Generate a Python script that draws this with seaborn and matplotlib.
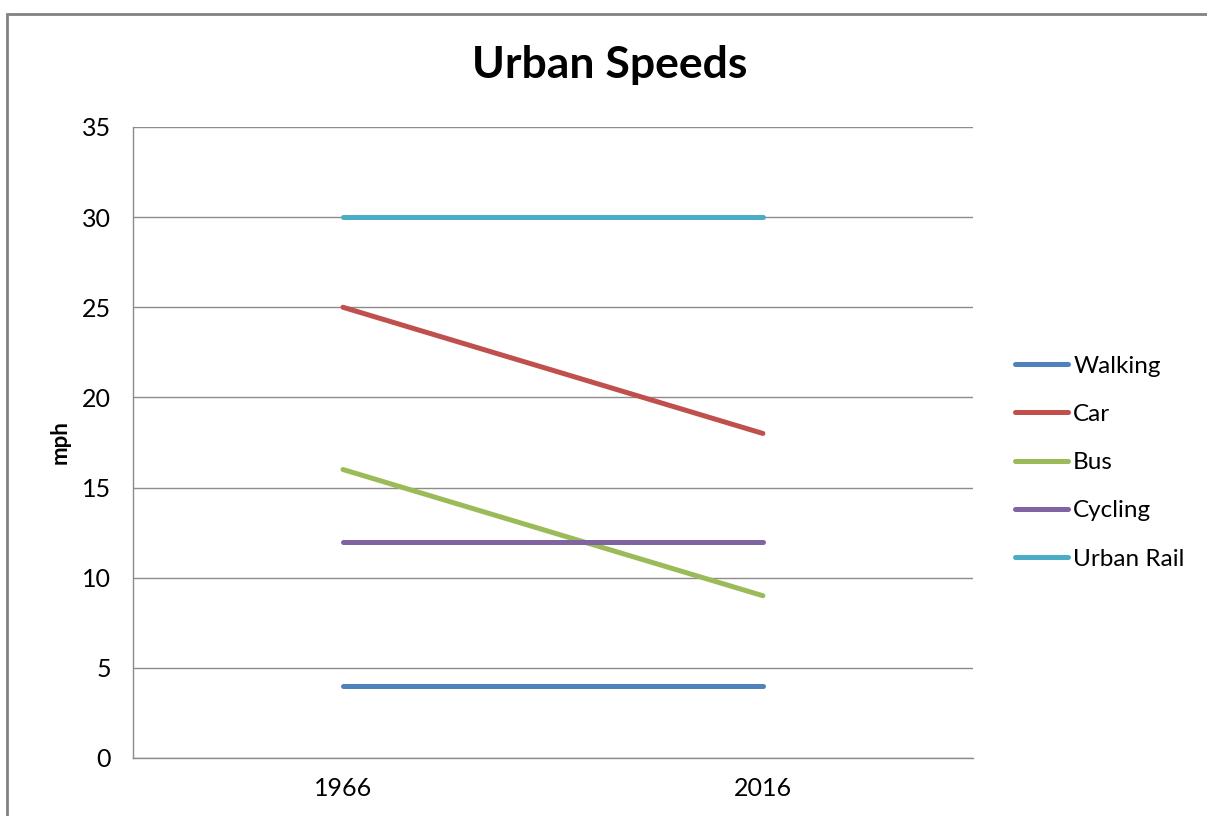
import matplotlib
matplotlib.use("Agg")
import matplotlib.pyplot as plt
import pandas as pd
import seaborn as sns
from matplotlib.patches import Rectangle

# Data
years = ["1966", "2016"]
walking = [4, 4]
car = [25, 18]
bus = [16, 9]
cycling = [12, 12]
urban_rail = [30, 30]

series_names = ["Walking", "Car", "Bus", "Cycling", "Urban Rail"]
colors = ["#4F81BD", "#C0504D", "#9BBB59", "#8064A2", "#4BACC6"]

df = pd.DataFrame({
    "pos": list(range(len(years))) * 5,
    "mph": walking + car + bus + cycling + urban_rail,
    "mode": [n for n in series_names for _ in years],
})

sns.set_style("white")
plt.rcParams['font.family'] = ['Lato', 'DejaVu Sans']
plt.rcParams['text.color'] = 'black'

fig = plt.figure(figsize=(12.07, 8.16), dpi=100)
ax = fig.add_axes([0.1102, 0.0711, 0.806 - 0.1102, 0.8444 - 0.0711])

sns.lineplot(data=df, x="pos", y="mph", hue="mode", hue_order=series_names,
             palette=colors, linewidth=3.6, ax=ax, legend=True)
for line in ax.get_lines():
    line.set_solid_capstyle("round")

ax.set_xlim(-0.5, 1.5)
ax.set_ylim(0, 35)
ax.set_xticks(range(len(years)))
ax.set_xticklabels(years)
ax.set_yticks(range(0, 36, 5))
ax.tick_params(axis="both", length=0, labelsize=18, colors="#000000")
ax.tick_params(axis="y", pad=16)
ax.tick_params(axis="x", pad=14)
ax.yaxis.grid(True, color="#8c8c8c", linewidth=1)
ax.set_axisbelow(True)
for s in ["top", "right"]:
    ax.spines[s].set_visible(False)
for s in ["left", "bottom"]:
    ax.spines[s].set_color("#8c8c8c")
    ax.spines[s].set_linewidth(1)

ax.set_xlabel("")
ax.set_ylabel("mph", fontsize=16, fontweight="bold", labelpad=8, color="black")

handles, labels = ax.get_legend_handles_labels()
ax.legend(handles, labels, loc="center left", bbox_to_anchor=(1.024, 0.468),
          frameon=False, fontsize=17.5, handlelength=2.2, handletextpad=0.2,
          labelspacing=1.12)
for h in ax.get_legend().get_lines():
    h.set_linewidth(3.6)
    h.set_solid_capstyle("round")

fig.text(0.505, 0.92, "Urban Speeds", ha="center", va="center",
         fontsize=32, fontweight="bold", color="black")

# chart area border (cropped on right and bottom in the reference)
fig.patches.append(Rectangle((7 / 1207, -0.05), 1.2, 1 - 14 / 816 + 0.05,
                             transform=fig.transFigure, fill=False,
                             edgecolor="#828282", linewidth=2))

fig.savefig("out.png", dpi=100)
